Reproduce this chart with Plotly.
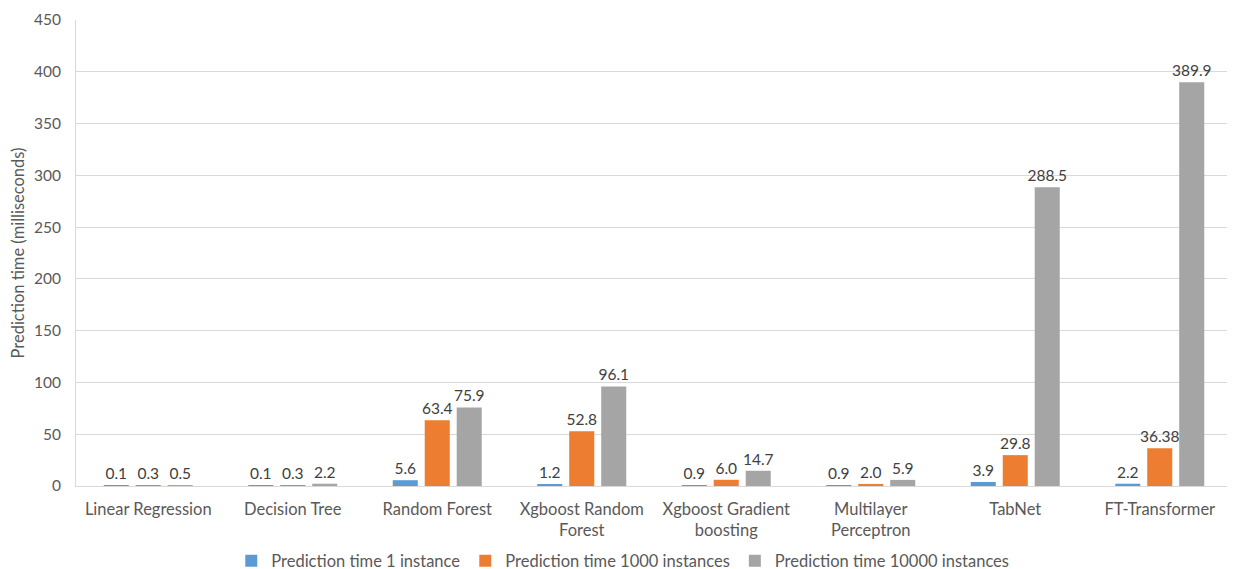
import plotly.graph_objects as go

categories = ["Linear Regression", "Decision Tree", "Random Forest", "Xgboost Random<br>Forest",
              "Xgboost Gradient<br>boosting", "Multilayer<br>Perceptron", "TabNet", "FT-Transformer"]
series_names = ["Prediction time 1 instance", "Prediction time 1000 instances", "Prediction time 10000 instances"]
t1 = [0.1, 0.1, 5.6, 1.2, 0.9, 0.9, 3.9, 2.2]
t1000 = [0.3, 0.3, 63.4, 52.8, 6.0, 2.0, 29.8, 36.38]
t10000 = [0.5, 2.2, 75.9, 96.1, 14.7, 5.9, 288.5, 389.9]
labels1 = ["0.1", "0.1", "5.6", "1.2", "0.9", "0.9", "3.9", "2.2"]
labels1000 = ["0.3", "0.3", "63.4", "52.8", "6.0", "2.0", "29.8", "36.38"]
labels10000 = ["0.5", "2.2", "75.9", "96.1", "14.7", "5.9", "288.5", "389.9"]
colors = ["#5B9BD5", "#ED7D31", "#A5A5A5"]
y_ticks = [0, 50, 100, 150, 200, 250, 300, 350, 400, 450]

FONT = "Lato, 'Open Sans', sans-serif"

fig = go.Figure()
for name, vals, labs, col in zip(series_names, [t1, t1000, t10000],
                                 [labels1, labels1000, labels10000], colors):
    fig.add_trace(go.Bar(
        x=list(range(len(categories))), y=vals, name=name, marker_color=col,
        marker_line_width=0,
        text=labs, textposition="outside", constraintext="none", cliponaxis=False,
        textfont=dict(family=FONT, size=15.5, color="#404040"),
    ))

# page body has an 8px default margin, so the figure is sized/offset to compensate
fig.update_layout(
    width=1227, height=569,
    margin=dict(l=68, r=3, t=12, b=91, autoexpand=False),
    paper_bgcolor="white", plot_bgcolor="white",
    barmode="group", bargap=0.336, bargroupgap=0.217,
    font=dict(family=FONT, size=14, color="#595959"),
    xaxis=dict(tickmode="array", tickvals=list(range(len(categories))), ticktext=categories,
               range=[-0.5, 7.5], showline=True, linecolor="#D9D9D9", linewidth=1,
               ticks="", showgrid=False, automargin=False, ticklabelstandoff=8,
               tickfont=dict(size=16.5, color="#595959")),
    yaxis=dict(range=[0, 450], tickvals=y_ticks, showgrid=True, gridcolor="#D9D9D9",
               gridwidth=1, zeroline=False, showline=True, linecolor="#D9D9D9",
               ticks="", ticklen=0, automargin=False, ticklabelstandoff=11,
               tickfont=dict(size=15.5, color="#595959"),
               title=dict(text="Prediction time (milliseconds)", standoff=8,
                          font=dict(size=16.5, color="#595959"))),
    legend=dict(orientation="h", x=0.473, xanchor="center", y=-0.161, yanchor="middle",
                font=dict(size=16.5, color="#595959"), itemwidth=30,
                traceorder="normal"),
    showlegend=True,
)

fig.write_html("out.html")
